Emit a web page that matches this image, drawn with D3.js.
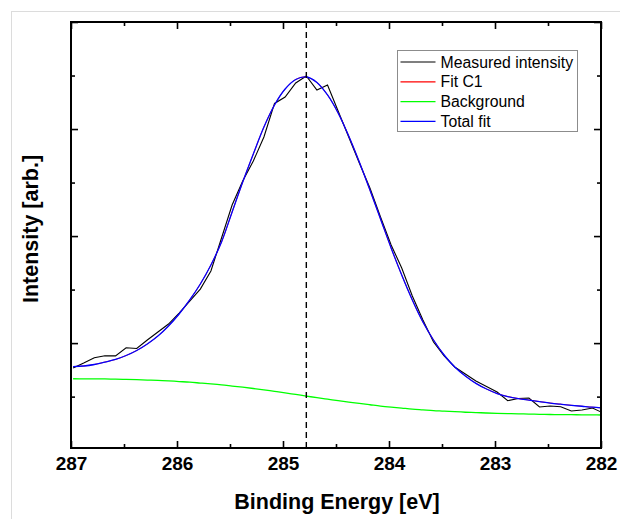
<!DOCTYPE html>
<html>
<head>
<meta charset="utf-8">
<script src="https://cdn.jsdelivr.net/npm/d3@7/dist/d3.min.js"></script>
<style>
  html, body { margin: 0; padding: 0; background: #fff; }
  svg { display: block; font-family: Arial, "Liberation Sans", sans-serif; }
</style>
</head>
<body>
<svg id="chart" width="620" height="519"></svg>
<script>
// C 1s region: binding energy grid (eV)
const energy = [
  286.98, 286.88, 286.78, 286.68, 286.58, 286.48, 286.38, 286.28, 286.18, 286.08,
  285.98, 285.88, 285.78, 285.68, 285.58, 285.48, 285.38, 285.28, 285.18, 285.08,
  284.98, 284.88, 284.78, 284.68, 284.58, 284.48, 284.38, 284.28, 284.18, 284.08,
  283.98, 283.88, 283.78, 283.68, 283.58, 283.48, 283.38, 283.28, 283.18, 283.08,
  282.98, 282.88, 282.78, 282.68, 282.58, 282.48, 282.38, 282.28, 282.18, 282.08,
  281.98
];

// Measured intensity (arb.)
const measured = [
  767, 814, 864, 882, 881, 957, 950, 1029, 1104, 1178,
  1281, 1393, 1505, 1674, 1982, 2290, 2515, 2701, 2926, 3239,
  3299, 3430, 3496, 3365, 3411, 3168, 2926, 2683, 2449, 2178,
  1917, 1702, 1440, 1216, 1010, 880, 777, 711, 646, 595,
  543, 462, 482, 487, 403, 412, 406, 366, 375, 394,
  347
];

// Total fit envelope (arb.)
const totalFit = [
  781, 786, 800, 823, 847, 884, 931, 992, 1066, 1160,
  1272, 1403, 1552, 1730, 1945, 2225, 2505, 2767, 3019, 3225,
  3374, 3463, 3486, 3435, 3318, 3150, 2935, 2692, 2430, 2160,
  1889, 1636, 1403, 1197, 1029, 889, 777, 693, 624, 571,
  529, 501, 482, 468, 454, 440, 429, 419, 410, 401,
  394
];

// Single component: the C1 envelope coincides with the total fit
const fitC1 = totalFit;

// Shirley-type background (arb.)
const background = [
  667, 666, 666, 665, 663, 661, 658, 655, 652, 647,
  641, 635, 627, 619, 610, 599, 588, 576, 563, 549,
  535, 520, 505, 490, 476, 462, 449, 436, 424, 412,
  402, 393, 384, 377, 370, 365, 359, 354, 351, 347,
  344, 341, 339, 337, 335, 333, 332, 331, 330, 329,
  328
];

const peakPosition = 284.78;
const xTicks = [287, 286, 285, 284, 283, 282];
const legendLabels = ["Measured intensity", "Fit C1", "Background", "Total fit"];
const seriesColors = ["#000000", "#ff0000", "#00ff00", "#0000ff"];

const svg = d3.select("#chart");
const W = 620, H = 519;
const plot = { left: 71, right: 601, top: 22, bottom: 448 };

// faint outer frame
svg.append("line").attr("x1", 11.5).attr("x2", 11.5).attr("y1", 11).attr("y2", H)
  .attr("stroke", "#dcdcdc").attr("stroke-width", 1);
svg.append("line").attr("x1", 11).attr("x2", W).attr("y1", 11.5).attr("y2", 11.5)
  .attr("stroke", "#dcdcdc").attr("stroke-width", 1);

const x = d3.scaleLinear().domain([287, 282]).range([plot.left, plot.right]);
const y = d3.scaleLinear().domain([20, 4000]).range([plot.bottom, plot.top]);

svg.append("defs").append("clipPath").attr("id", "plotclip")
  .append("rect").attr("x", plot.left).attr("y", plot.top)
  .attr("width", plot.right - plot.left).attr("height", plot.bottom - plot.top);

const g = svg.append("g").attr("clip-path", "url(#plotclip)");

const line = (vals) => d3.line()
  .x((d, i) => x(energy[i]))
  .y(d => y(d))(vals);
const smooth = (vals) => d3.line()
  .x((d, i) => x(energy[i]))
  .y(d => y(d))
  .curve(d3.curveCatmullRom.alpha(0.5))(vals);

g.append("path").attr("d", smooth(background)).attr("fill", "none")
  .attr("stroke", seriesColors[2]).attr("stroke-width", 1.3);
g.append("path").attr("d", line(measured)).attr("fill", "none")
  .attr("stroke", seriesColors[0]).attr("stroke-width", 1.1);
g.append("path").attr("d", smooth(fitC1)).attr("fill", "none")
  .attr("stroke", seriesColors[1]).attr("stroke-width", 0.8);
g.append("path").attr("d", smooth(totalFit)).attr("fill", "none")
  .attr("stroke", seriesColors[3]).attr("stroke-width", 1.3);

// peak position marker
svg.append("line")
  .attr("x1", x(peakPosition)).attr("x2", x(peakPosition))
  .attr("y1", plot.top).attr("y2", plot.bottom)
  .attr("stroke", "#000").attr("stroke-width", 1.4)
  .attr("stroke-dasharray", "6,4");

// axes with inward ticks on all four sides
const xMinor = [286.5, 285.5, 284.5, 283.5, 282.5];
const yMajor = [1000, 2000, 3000, 4000];
const yMinor = [500, 1500, 2500, 3500];

function xAxis(gen, ty, vals, size, labels) {
  const a = gen(x).tickValues(vals).tickSizeInner(size).tickSizeOuter(0)
    .tickFormat(labels ? d3.format("d") : "").tickPadding(9);
  const gg = svg.append("g").attr("transform", `translate(0,${ty})`).call(a);
  gg.select(".domain").remove();
  gg.selectAll("line").attr("stroke-width", 1.6);
  return gg;
}
const gxb = xAxis(d3.axisBottom, plot.bottom, xTicks, -7, true);
gxb.selectAll("text").attr("font-size", 19).attr("font-weight", "bold")
  .attr("font-family", "Arial, 'Liberation Sans', sans-serif").attr("fill", "#000");
xAxis(d3.axisBottom, plot.bottom, xMinor, -4, false);
xAxis(d3.axisTop, plot.top, xTicks, -7, false);
xAxis(d3.axisTop, plot.top, xMinor, -4, false);

function yAxis(gen, size, tx, vals) {
  const a = gen(y).tickValues(vals).tickFormat("").tickSizeInner(size).tickSizeOuter(0);
  const gg = svg.append("g").attr("transform", `translate(${tx},0)`).call(a);
  gg.select(".domain").remove();
  gg.selectAll("line").attr("stroke-width", 1.6);
}
yAxis(d3.axisLeft, -7, plot.left, yMajor);
yAxis(d3.axisLeft, -4, plot.left, yMinor);
yAxis(d3.axisRight, -7, plot.right, yMajor);
yAxis(d3.axisRight, -4, plot.right, yMinor);

// plot frame
svg.append("rect")
  .attr("x", plot.left).attr("y", plot.top)
  .attr("width", plot.right - plot.left).attr("height", plot.bottom - plot.top)
  .attr("fill", "none").attr("stroke", "#000").attr("stroke-width", 2);

// axis titles
svg.append("text")
  .attr("x", 337).attr("y", 509)
  .attr("text-anchor", "middle").attr("font-size", 21.5).attr("font-weight", "bold")
  .text("Binding Energy [eV]");
svg.append("text")
  .attr("transform", "translate(38,229) rotate(-90)")
  .attr("text-anchor", "middle").attr("font-size", 21.5).attr("font-weight", "bold")
  .text("Intensity [arb.]");

// legend
const lg = svg.append("g").attr("transform", "translate(397.5,50.5)");
lg.append("rect").attr("width", 180).attr("height", 81)
  .attr("fill", "#fff").attr("stroke", "#8c8c8c").attr("stroke-width", 1);
legendLabels.forEach((lab, i) => {
  const yy = 11.5 + i * 19.8;
  lg.append("line").attr("x1", 3).attr("x2", 38).attr("y1", yy).attr("y2", yy)
    .attr("stroke", seriesColors[i]).attr("stroke-width", 1.2);
  lg.append("text").attr("x", 43).attr("y", yy + 5.5).attr("font-size", 15.8)
    .attr("fill", "#000").text(lab);
});
</script>
</body>
</html>
